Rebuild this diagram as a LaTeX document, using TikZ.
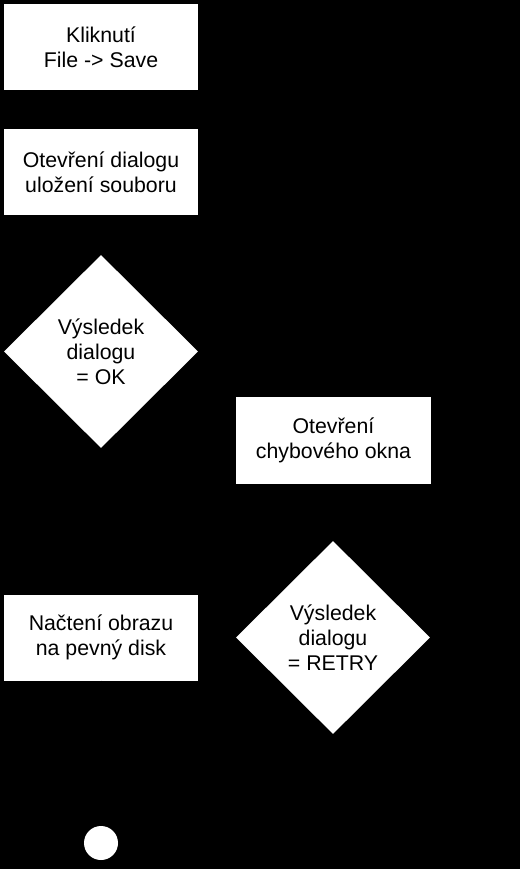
\documentclass[tikz,border=0pt]{standalone}
\usepackage{fontspec}
\setmainfont{Liberation Sans}
\usetikzlibrary{shapes.geometric,arrows.meta}
\begin{document}
\begin{tikzpicture}[x=1pt, y=1pt, font=\fontsize{21.3}{25}\selectfont,
    >=Stealth]
  \tikzstyle{krok}=[rectangle, fill=white, align=center, inner sep=0pt,
                    minimum width=194pt, minimum height=86pt]
  \tikzstyle{rozhod}=[diamond, fill=white, align=center, inner sep=0pt,
                      minimum width=194pt, minimum height=193pt]
  \tikzstyle{cesta}=[->, draw=black, line width=1pt]
  \fill[black] (0,0) rectangle (520,-869);
  % levy sloupec
  \node[krok] (klik) at (101,-47) {Kliknutí\\File -> Save};
  \node[krok] (dialog) at (101,-172) {Otevření dialogu\\uložení souboru};
  \node[rozhod] (vysledekok) at (101,-351.5) {Výsledek\\dialogu\\= OK};
  \node[krok] (nacteni) at (101,-637.5) {Načtení obrazu\\na pevný disk};
  \node[circle, fill=white, inner sep=0pt, minimum size=34pt] (konec)
       at (101,-843) {};
  % pravy sloupec
  \node[krok, minimum width=195pt, minimum height=87pt] (chyba)
       at (333.5,-440.5) {Otevření\\chybového okna};
  \node[rozhod] (vysledekretry) at (333,-637.5) {Výsledek\\dialogu\\= RETRY};
  % spoje
  \draw[cesta] (klik) -- (dialog);
  \draw[cesta] (dialog) -- (vysledekok);
  \draw[cesta] (vysledekok) -- (nacteni);
  \draw[cesta] (vysledekok.east) -| (chyba.north);
  \draw[cesta] (chyba) -- (vysledekretry);
  \draw[cesta] (nacteni) -- (konec);
\end{tikzpicture}
\end{document}
